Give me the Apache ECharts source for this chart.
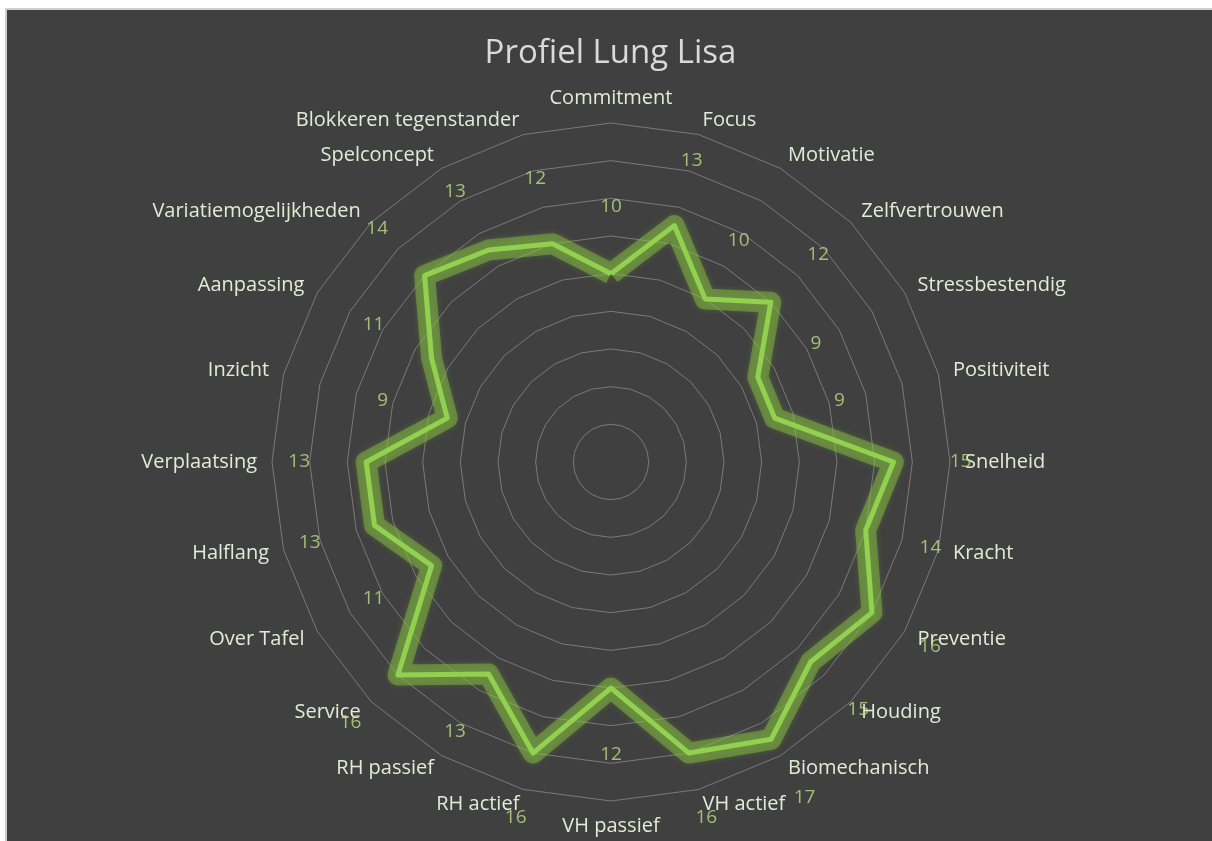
<!DOCTYPE html>
<html>
<head>
<meta charset="UTF-8">
<title>Profiel Lung Lisa</title>
<script src="https://cdn.jsdelivr.net/npm/echarts@6/dist/echarts.min.js"></script>
<style>
    body { margin: 0; background: #ffffff; }
    #main {
        position: absolute; left: 5px; top: 8px; width: 1207px; height: 833px;
        border-top: 2px solid #cfcfcf; border-left: 2px solid #cfcfcf;
    }
</style>
</head>
<body>
    <div id="main"></div>
    <script>
        var categories = ['Commitment', 'Focus', 'Motivatie', 'Zelfvertrouwen', 'Stressbestendig',
            'Positiviteit', 'Snelheid', 'Kracht', 'Preventie', 'Houding', 'Biomechanisch', 'VH actief',
            'VH passief', 'RH actief', 'RH passief', 'Service', 'Over Tafel', 'Halflang', 'Verplaatsing',
            'Inzicht', 'Aanpassing', 'Variatiemogelijkheden', 'Spelconcept', 'Blokkeren tegenstander'];
        var scores = [10, 13, 10, 12, 9, 9, 15, 14, 16, 15, 17, 16, 12, 16, 13, 16, 11, 13, 13, 9, 11, 14, 13, 12];
        var scaleMax = 18;

        var myChart = echarts.init(document.getElementById('main'));
        var font = 'Open Sans';
        var center = [604, 452];
        var radius = 339;

        // radar runs counter-clockwise, so feed it the categories in reverse (Commitment stays on top)
        var order = categories.map(function (c, i) { return i === 0 ? 0 : categories.length - i; });
        var radarNames = order.map(function (i) { return categories[i]; });
        var radarScores = order.map(function (i) { return scores[i]; });

        // value labels sit a fixed distance outside each point, like the Excel original
        var labelDist = 67;
        var labelPoints = scores.map(function (v, i) {
            var a = i * 2 * Math.PI / categories.length;
            return {
                value: [v, categories[i]],
                label: { offset: [labelDist * Math.sin(a), -labelDist * Math.cos(a)] }
            };
        });

        var option = {
            backgroundColor: '#404040',
            textStyle: { fontFamily: font },
            title: {
                text: 'Profiel Lung Lisa',
                left: 'center',
                top: 22,
                textStyle: { color: '#d9d9d9', fontSize: 33, fontWeight: 'normal', fontFamily: font }
            },
            radar: {
                center: center,
                radius: radius,
                startAngle: 90,
                shape: 'polygon',
                splitNumber: 9,
                indicator: radarNames.map(function (c) { return { name: c, min: 0, max: scaleMax }; }),
                axisName: { color: '#e3ebd6', fontSize: 20, fontFamily: font },
                nameGap: 15,
                axisLine: { show: false },
                axisTick: { show: false },
                splitArea: { show: false },
                splitLine: { lineStyle: { color: '#7a7a7a', width: 1 } }
            },
            polar: { center: center, radius: radius },
            angleAxis: {
                type: 'category', data: categories, startAngle: 90, clockwise: true,
                boundaryGap: false, show: false
            },
            radiusAxis: { min: 0, max: scaleMax, show: false },
            series: [
                {
                    type: 'radar',
                    symbol: 'none',
                    silent: true,
                    z: 2,
                    lineStyle: { color: 'rgba(135,195,65,0.48)', width: 21, shadowBlur: 6, shadowColor: 'rgba(135,195,65,0.45)' },
                    data: [{ value: radarScores }]
                },
                {
                    type: 'radar',
                    symbol: 'none',
                    z: 3,
                    lineStyle: { color: '#92d050', width: 5 },
                    data: [{ value: radarScores }]
                },
                {
                    type: 'scatter',
                    coordinateSystem: 'polar',
                    symbolSize: 0,
                    z: 4,
                    label: {
                        show: true, position: 'inside', color: '#bade85', fontSize: 19, fontFamily: font,
                        formatter: function (p) { return p.value[0]; }
                    },
                    data: labelPoints
                }
            ]
        };

        myChart.setOption(option);
    </script>
</body>
</html>
